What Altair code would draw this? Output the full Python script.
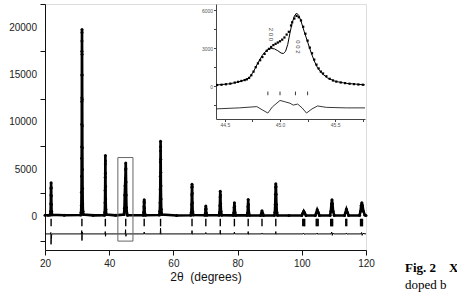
import altair as alt
import pandas as pd

# ---------------- main pattern (observed / calculated profile) ----------------
obs_x = [20.0, 21.0,
         21.6, 21.75, 21.8, 21.84, 21.87, 21.9, 21.93, 21.96, 22.0, 22.05, 22.2,
         26.0,
         31.1, 31.25, 31.32, 31.37, 31.4, 31.42, 31.44, 31.46, 31.47, 31.48, 31.49, 31.5, 31.51, 31.52, 31.53,
         31.55, 31.57, 31.59, 31.61, 31.63, 31.66, 31.7, 31.75, 31.82, 31.95,
         35.0,
         38.5, 38.62, 38.7, 38.74, 38.77, 38.79, 38.8, 38.82, 38.84, 38.87, 38.9, 38.96, 39.1,
         42.0,
         44.6, 44.75, 44.85, 44.95, 45.05, 45.1, 45.15, 45.2, 45.25, 45.3, 45.38, 45.5, 45.7,
         50.6, 50.75, 50.82, 50.87, 50.9, 50.94, 50.99, 51.08, 51.3,
         55.6, 55.75, 55.84, 55.9, 55.94, 55.97, 55.99, 56.0, 56.02, 56.04, 56.07, 56.1, 56.15, 56.22, 56.4,
         61.0,
         65.4, 65.58, 65.68, 65.74, 65.78, 65.8, 65.83, 65.87, 65.92, 66.0, 66.2,
         69.8, 69.95, 70.03, 70.1, 70.17, 70.26, 70.45,
         74.2, 74.38, 74.48, 74.55, 74.6, 74.65, 74.72, 74.82, 75.05,
         78.65, 78.82, 78.92, 79.0, 79.08, 79.18, 79.4,
         82.95, 83.12, 83.22, 83.3, 83.37, 83.47, 83.7,
         87.2, 87.4, 87.6, 87.8, 88.05,
         91.45, 91.62, 91.72, 91.8, 91.86, 91.9, 91.95, 92.01, 92.1, 92.22, 92.45,
         96.0,
         100.0, 100.3, 100.6, 100.9, 101.3,
         104.2, 104.5, 104.8, 105.1, 105.5,
         108.8, 109.05, 109.25, 109.4, 109.55, 109.75, 110.1,
         113.3, 113.6, 113.9, 114.2, 114.6,
         118.0, 118.3, 118.5, 118.7, 118.9, 119.2, 119.6, 120.0]
obs_y = [180, 170,
         200, 600, 1400, 2300, 3000, 3600, 3100, 2200, 1300, 600, 220,
         180,
         200, 500, 1200, 2600, 4300, 6200, 7400, 9800, 12200, 12600, 15000, 17500, 18600, 19500, 19800,
         17200, 15000, 12400, 9600, 7300, 5000, 3000, 1400, 600, 250,
         160,
         180, 500, 1500, 2800, 4200, 5600, 6500, 5900, 4600, 3200, 1900, 800, 250,
         160,
         250, 900, 2300, 3300, 4100, 5000, 5700, 5100, 3700, 2300, 1000, 400, 170,
         180, 500, 1100, 1600, 1800, 1500, 900, 400, 170,
         200, 600, 1500, 2900, 4300, 5800, 7000, 8000, 7400, 6100, 4700, 3300, 1900, 800, 250,
         150,
         180, 500, 1300, 2300, 3100, 3450, 3200, 2500, 1500, 600, 200,
         170, 400, 800, 1150, 850, 400, 170,
         170, 500, 1200, 2100, 2700, 2300, 1400, 600, 180,
         160, 450, 1000, 1500, 1100, 500, 160,
         160, 450, 1100, 1850, 1300, 550, 160,
         150, 350, 650, 380, 150,
         160, 500, 1300, 2400, 3100, 3500, 3200, 2400, 1300, 500, 160,
         140,
         150, 380, 600, 420, 150,
         150, 420, 750, 500, 150,
         160, 600, 1400, 1800, 1400, 600, 160,
         150, 450, 800, 500, 150,
         160, 600, 1200, 1500, 1200, 600, 200, 150]

# difference curve (main)
diff_x = [20, 21.7, 21.82, 21.88, 21.95, 22.1, 31.3, 31.45, 31.52, 31.6, 31.75,
          38.7, 38.78, 38.84, 38.95, 45.0, 45.1, 45.2, 45.35, 50.8, 50.9, 51.0,
          55.9, 56.0, 56.1, 56.2, 65.7, 65.8, 65.9, 66.0, 70.0, 70.1, 70.2,
          74.5, 74.6, 74.7, 74.8, 78.9, 79.0, 79.1, 83.2, 83.3, 83.4, 83.5,
          87.5, 87.6, 87.7, 91.8, 91.9, 92.0, 92.1, 100.4, 100.6, 100.8, 101.0,
          104.6, 104.8, 105.0, 105.2, 109.1, 109.3, 109.5, 109.7, 109.9,
          113.7, 113.9, 114.1, 114.3, 118.4, 118.6, 118.8, 119.0, 120.0]
diff_y = [-1800, -1800, -1650, -2900, -2400, -1800, -1800, -1450, -2500, -1600, -1800,
          -1800, -1550, -2050, -1800, -1800, -1350, -2050, -1800, -1800, -1600, -1800,
          -1800, -1200, -1850, -1800, -1800, -1450, -1850, -1800, -1800, -1650, -1800,
          -1800, -1400, -1850, -1800, -1800, -1600, -1800, -1800, -1550, -1850, -1800,
          -1800, -1700, -1800, -1800, -1550, -1850, -1800, -1800, -1700, -1850, -1800,
          -1800, -1700, -1850, -1800, -1800, -1600, -1950, -1700, -1800,
          -1800, -1700, -1850, -1800, -1800, -1650, -1950, -1750, -1800]

# Bragg reflection positions (main)
bragg_x = [21.9, 31.5, 38.8, 45.15, 50.9, 56.0, 65.8, 70.1, 74.6, 79.0, 83.3, 87.6, 91.9,
           100.3, 100.6, 100.9, 104.5, 104.8, 105.1, 109.0, 109.3, 109.6,
           113.7, 114.0, 118.3, 118.6, 118.9]

# zoom box drawn on main pattern
box_x, box_x2, box_y, box_y2 = [42.7], [47.4], [6270], [-2560]

# axis tick values / labels
x_ticks = [20, 30, 40, 50, 60, 70, 80, 90, 100, 110, 120]
y_ticks = [-2500, 0, 2500, 5000, 7500, 10000, 12500, 15000, 17500, 20000, 22500]
y_label_vals = [0, 5000, 10000, 15000, 20000]
y_label_text = ["0", "5000", "10000", "15000", "20000"]

# ---------------- inset (44.4 - 45.8 deg) ----------------
in_obs_x = [44.43, 44.47, 44.51, 44.55, 44.59, 44.62, 44.65, 44.68, 44.70, 44.72, 44.74, 44.76,
            44.78, 44.80, 44.82, 44.84, 44.86, 44.88, 44.90, 44.92, 44.94, 44.96, 44.98, 45.00,
            45.02, 45.04, 45.06, 45.08, 45.10, 45.11, 45.13, 45.15, 45.17, 45.19, 45.21, 45.23,
            45.25, 45.27, 45.29, 45.31, 45.33, 45.35, 45.37, 45.39, 45.42, 45.45, 45.48, 45.51,
            45.55, 45.59, 45.63, 45.67, 45.71, 45.75]
in_obs_y = [90, 110, 150, 200, 280, 340, 410, 480, 540, 650, 860, 1150,
            1500, 1800, 2050, 2300, 2550, 2800, 2950, 3100, 3250, 3350, 3450, 3550,
            3680, 3850, 4080, 4300, 4800, 5050, 5350, 5560, 5450, 5200, 4700, 4150,
            3600, 3050, 2600, 2100, 1700, 1400, 1150, 1000, 780, 580, 450, 360,
            290, 240, 190, 160, 130, 110]
in_calc_x = [44.42, 44.55, 44.65, 44.72, 44.76, 44.80, 44.84, 44.88, 44.92, 44.95, 44.98, 45.01,
             45.03, 45.05, 45.07, 45.09, 45.11, 45.13, 45.15, 45.17, 45.19, 45.22, 45.25, 45.28,
             45.31, 45.34, 45.38, 45.43, 45.50, 45.60, 45.77]
in_calc_y = [90, 190, 400, 640, 1150, 1850, 2450, 2850, 2980, 2950, 2800, 2620,
             2580, 2750, 3300, 4200, 5000, 5550, 5780, 5600, 5150, 4300, 3500, 2700,
             2000, 1450, 1000, 650, 380, 220, 100]
in_diff_x = [44.42, 44.63, 44.79, 44.84, 44.89, 44.93, 45.0, 45.05, 45.09, 45.12, 45.16,
             45.2, 45.24, 45.29, 45.34, 45.42, 45.6, 45.77]
in_diff_y = [-1800, -1720, -1620, -1880, -2130, -1650, -1130, -1250, -1350, -1500, -1420,
             -1720, -2130, -1800, -1570, -1680, -1720, -1720]
in_bragg_x = [44.89, 45.0, 45.14, 45.25]
in_label_text = ["2 0 0", "0 0 2"]
in_label_x = [44.92, 45.16]
in_label_y = [4100, 3100]
in_x_ticks = [44.5, 44.75, 45.0, 45.25, 45.5, 45.75]
in_y_ticks = [-1500, 0, 1500, 3000, 4500, 6000]

# ---------------- scales ----------------
W, H = 321, 246
IX0, IX1, IY0 = 171, 320, 115  # inset frame inside the plot area (pixels)
xs = alt.Scale(domain=[20, 120], nice=False, zero=False)
ys = alt.Scale(domain=[-3500, 22500], nice=False, zero=False)
ixs = alt.Scale(domain=[44.42, 45.77], range=[IX0, IX1], nice=False, zero=False)
iys = alt.Scale(domain=[-2600, 6500], range=[IY0, 0], nice=False, zero=False)

LAB = "#222222"
x_axis = alt.Axis(values=x_ticks, orient="bottom",
                  labelExpr="datum.value % 20 == 0 ? datum.label : ''",
                  title="2θ\u00a0\u00a0(degrees)", titleFont="Liberation Sans", titleFontSize=12,
                  titleFontWeight="normal", titleColor="#111", titlePadding=3,
                  labelFont="Liberation Sans", labelFontSize=10, labelColor=LAB, labelPadding=3,
                  labelOverlap=False, labelFlush=False, tickSize=5, tickColor="#111",
                  domainColor="#111", grid=False)
y_axis = alt.Axis(values=y_ticks, orient="left", labels=False, title=None,
                  tickSize=5, tickColor="#111", domainColor="#111", grid=False)

main_df = pd.DataFrame({"x": obs_x, "y": obs_y})
diff_df = pd.DataFrame({"x": diff_x, "y": diff_y})
bragg_df = pd.DataFrame({"x": bragg_x})
box_df = pd.DataFrame({"x": box_x, "x2": box_x2, "y": box_y, "y2": box_y2})
ylab_df = pd.DataFrame({"v": y_label_vals, "t": y_label_text})

calc_line = alt.Chart(main_df).mark_line(color="black", strokeWidth=2.6).encode(
    x=alt.X("x:Q", scale=xs, axis=x_axis), y=alt.Y("y:Q", scale=ys, axis=y_axis))
obs_pts = alt.Chart(main_df).mark_circle(color="black", size=9, opacity=1).encode(
    x=alt.X("x:Q", scale=xs), y=alt.Y("y:Q", scale=ys))
bragg = alt.Chart(bragg_df).mark_rule(color="black", strokeWidth=1.4).encode(
    x=alt.X("x:Q", scale=xs), y=alt.datum(-200), y2=alt.datum(-1000))
diff = alt.Chart(diff_df).mark_line(color="black", strokeWidth=1).encode(
    x=alt.X("x:Q", scale=xs), y=alt.Y("y:Q", scale=ys))
box = alt.Chart(box_df).mark_rect(fill=None, fillOpacity=0, stroke="#666", strokeWidth=1).encode(
    x=alt.X("x:Q", scale=xs), x2="x2:Q", y=alt.Y("y:Q", scale=ys), y2="y2:Q")
# y-axis tick labels, positioned through the y scale
ylabels = alt.Chart(ylab_df).mark_text(font="Liberation Sans", fontSize=10, color=LAB,
                                       align="right", baseline="middle").encode(
    x=alt.value(-8), y=alt.Y("v:Q", scale=ys), text="t:N")

fig_df = pd.DataFrame({"a": [0]})
fig1 = alt.Chart(fig_df).mark_text(text="Fig. 2", font="Liberation Serif", fontSize=13,
                                   fontWeight="bold", align="left", baseline="alphabetic",
                                   color="black").encode(x=alt.value(360), y=alt.value(268))
fig2 = alt.Chart(fig_df).mark_text(text="X", font="Liberation Serif", fontSize=13,
                                   fontWeight="bold", align="left", baseline="alphabetic",
                                   color="black").encode(x=alt.value(404), y=alt.value(268))
fig3 = alt.Chart(fig_df).mark_text(text="doped b", font="Liberation Serif", fontSize=13,
                                   align="left", baseline="alphabetic",
                                   color="black").encode(x=alt.value(360), y=alt.value(285))

main = alt.layer(calc_line, obs_pts, bragg, diff, box, ylabels, fig1, fig2, fig3)

# ---------------- inset layers ----------------
ILAB = "#555555"
ix_axis = alt.Axis(values=in_x_ticks, orient="bottom", offset=-(H - IY0),
                   labelExpr="round(datum.value*4) % 2 == 0 ? format(datum.value, '.1f') : ''",
                   title=None, labelFont="Liberation Sans", labelFontSize=5, labelColor=ILAB,
                   labelOverlap=False, labelFlush=False, labelPadding=1, tickSize=2.5,
                   tickColor="#444", domainColor="#444", grid=False)
iy_axis = alt.Axis(values=in_y_ticks, orient="left", offset=-IX0, format="d",
                   labelExpr="datum.value % 3000 == 0 ? format(datum.value, 'd') : ''",
                   title=None, labelFont="Liberation Sans", labelFontSize=5, labelColor=ILAB,
                   labelOverlap=False, labelFlush=False, labelPadding=1, tickSize=2.5,
                   tickColor="#444", domainColor="#444", grid=False)

in_obs_df = pd.DataFrame({"x": in_obs_x, "y": in_obs_y})
in_calc_df = pd.DataFrame({"x": in_calc_x, "y": in_calc_y})
in_diff_df = pd.DataFrame({"x": in_diff_x, "y": in_diff_y})
in_bragg_df = pd.DataFrame({"x": in_bragg_x})
in_lab_df = pd.DataFrame({"t": in_label_text, "x": in_label_x, "y": in_label_y})

in_calc = alt.Chart(in_calc_df).mark_line(color="black", strokeWidth=1).encode(
    x=alt.X("x:Q", scale=ixs, axis=ix_axis), y=alt.Y("y:Q", scale=iys, axis=iy_axis))
in_obs = alt.Chart(in_obs_df).mark_square(color="black", size=5, opacity=1).encode(
    x=alt.X("x:Q", scale=ixs), y=alt.Y("y:Q", scale=iys))
in_diff = alt.Chart(in_diff_df).mark_line(color="#222", strokeWidth=0.9).encode(
    x=alt.X("x:Q", scale=ixs), y=alt.Y("y:Q", scale=iys))
in_bragg = alt.Chart(in_bragg_df).mark_rule(color="#222", strokeWidth=0.9).encode(
    x=alt.X("x:Q", scale=ixs), y=alt.datum(-430), y2=alt.datum(-720))
in_lab = alt.Chart(in_lab_df).mark_text(font="Liberation Sans", fontSize=6, angle=90,
                                        color="#444", align="center", baseline="middle").encode(
    x=alt.X("x:Q", scale=ixs), y=alt.Y("y:Q", scale=iys), text="t:N")

inset = alt.layer(in_calc, in_obs, in_diff, in_bragg, in_lab)

chart = alt.layer(main, inset).resolve_scale(x="independent", y="independent").properties(
    width=W, height=H,
    autosize=alt.AutoSizeParams(type="none"),
    padding={"left": 45, "top": 4, "right": 457 - 45 - W, "bottom": 294 - 4 - H},
).configure_view(stroke="#111", strokeWidth=1).configure(background="white")

chart.save("out.html", embed_options={"renderer": "svg", "actions": False})
